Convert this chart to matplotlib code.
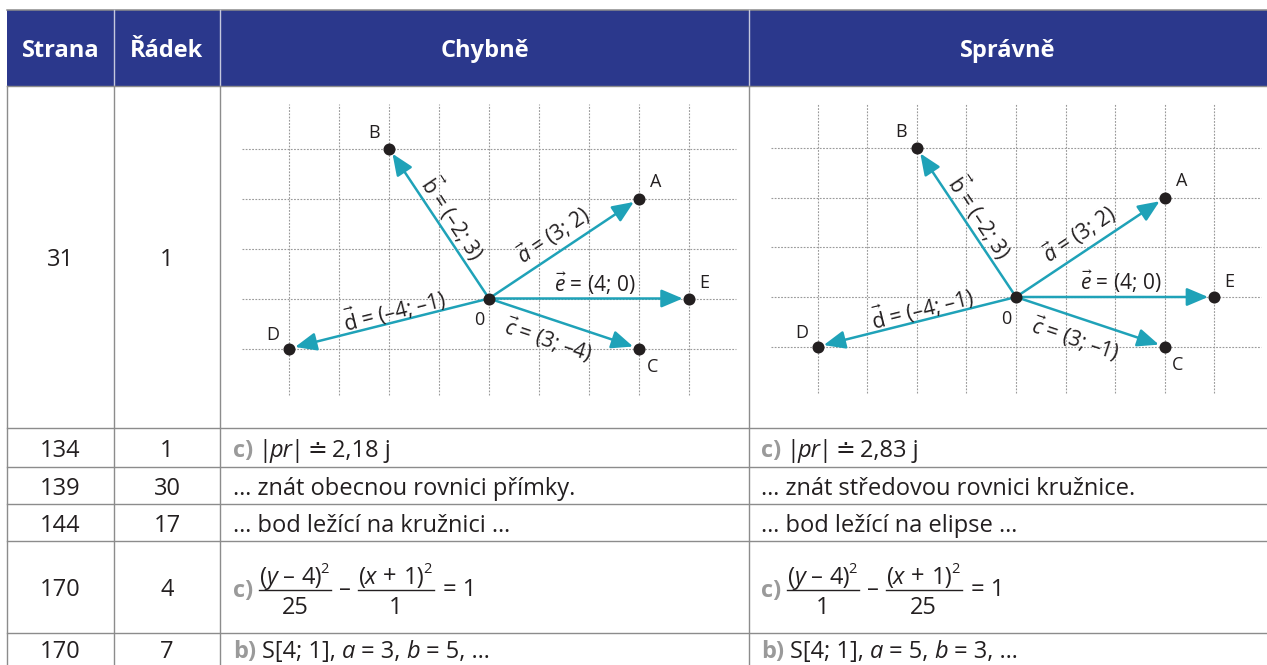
import numpy as np
import matplotlib.pyplot as plt

plt.rcParams['font.family'] = ['Open Sans', 'DejaVu Sans']
plt.rcParams['mathtext.fontset'] = 'custom'
plt.rcParams['mathtext.rm'] = 'Open Sans'
plt.rcParams['mathtext.it'] = 'Open Sans:italic'
plt.rcParams['mathtext.bf'] = 'Open Sans:bold'
plt.rcParams['mathtext.fallback'] = 'stixsans'

# --- data ---
headers = ['Strana', 'Řádek', 'Chybně', 'Správně']
strana = ['31', '134', '139', '144', '170', '170']
radek = ['1', '1', '30', '17', '4', '7']

# vectors / points of the diagram (grid units)
point_names = ['A', 'B', 'C', 'D', 'E']
point_x = [3, -2, 3, -4, 4]
point_y = [2, 3, -1, -1, 0]
labels_wrong = [r'$\vec{a}$ = (3; 2)', r'$\vec{\mathrm{b}}$ = (–2; 3)', r'$\vec{c}$ = (3; –4)',
                r'$\vec{\mathrm{d}}$ = (–4; –1)', r'$\vec{e}$ = (4; 0)']
labels_right = [r'$\vec{a}$ = (3; 2)', r'$\vec{\mathrm{b}}$ = (–2; 3)', r'$\vec{c}$ = (3; –1)',
                r'$\vec{\mathrm{d}}$ = (–4; –1)', r'$\vec{e}$ = (4; 0)']

# cell texts as runs: (text, style, gap before in px); style b = grey bold label, i = italic
wrong_pr = [('c)', 'b', 0), ('|', 'r', 5), ('pr', 'i', -2), ('|', 'r', -2), ('≐', 'r', 4), ('2,18 j', 'r', 5)]
right_pr = [('c)', 'b', 0), ('|', 'r', 5), ('pr', 'i', -2), ('|', 'r', -2), ('≐', 'r', 4), ('2,83 j', 'r', 5)]
wrong_line = [('… znát obecnou rovnici přímky.', 'r', 0)]
right_line = [('… znát středovou rovnici kružnice.', 'r', 0)]
wrong_point = [('… bod ležící na kružnici …', 'r', 0)]
right_point = [('… bod ležící na elipse …', 'r', 0)]
num_y = [('(', 'r', 0), ('y', 'i', -1), ('–', 'r', 6), ('4)', 'r', 6), ('2', 's', -1)]
num_x = [('(', 'r', 0), ('x', 'i', -1), ('+', 'r', 7), ('1)', 'r', 7), ('2', 's', -1)]
wrong_hyp = [(num_y, '25'), (num_x, '1')]
right_hyp = [(num_y, '1'), (num_x, '25')]
wrong_s = [('b)', 'b', 0), ('S[4; 1],', 'r', 6), ('a', 'i', 6), ('= 3,', 'r', 6), ('b', 'i', 6),
           ('= 5, …', 'r', 6)]
right_s = [('b)', 'b', 0), ('S[4; 1],', 'r', 6), ('a', 'i', 6), ('= 5,', 'r', 6), ('b', 'i', 6),
           ('= 3, …', 'r', 6)]

W, H = 1267, 665
NAVY = '#2b388c'
TEAL = '#1fa2b8'
LINE = '#8c8c8c'
TXT = '#231f20'
FS = 17

col_x = [7, 114, 220, 749, 1267]
row_y = [10, 85.5, 428, 467, 504, 541, 633, 691]

fig = plt.figure(figsize=(W / 100, H / 100), dpi=100)
ax = fig.add_axes([0, 0, 1, 1])
ax.set_xlim(0, W)
ax.set_ylim(H, 0)
ax.axis('off')
renderer = fig.canvas.get_renderer()

# header
ax.add_patch(plt.Rectangle((col_x[0], row_y[0]), W - col_x[0], row_y[1] - row_y[0], color=NAVY, lw=0))
ax.plot([col_x[0], W], [row_y[0], row_y[0]], color=LINE, lw=1.1)
for cx in col_x[1:-1]:
    ax.plot([cx, cx], [row_y[0], row_y[1]], color='#c5c8de', lw=1.0)
for i, h in enumerate(headers):
    ax.text((col_x[i] + col_x[i + 1]) / 2, (row_y[0] + row_y[1]) / 2 + 9, h, color='white',
            fontsize=17, fontweight='bold', ha='center', va='baseline')

# body grid lines
for ry in row_y[1:-1]:
    ax.plot([col_x[0], W], [ry, ry], color=LINE, lw=1.0)
for cx in col_x[:-1]:
    ax.plot([cx, cx], [row_y[1], H], color=LINE, lw=1.0)

baselines = [(row_y[i + 1] + row_y[i + 2]) / 2 + 9.5 for i in range(len(strana))]
baselines[-1] = 658

# first two columns
for i in range(len(strana)):
    ax.text((col_x[0] + col_x[1]) / 2, baselines[i], strana[i], fontsize=FS, color=TXT,
            ha='center', va='baseline')
    ax.text((col_x[1] + col_x[2]) / 2, baselines[i], radek[i], fontsize=FS, color=TXT,
            ha='center', va='baseline')


def draw_runs(x, y, runs, size=FS):
    arts = []
    em = size * 100 / 72
    for txt, style, gap in runs:
        x += gap
        kw = dict(fontsize=size, color=TXT, ha='left', va='baseline')
        yy = y
        if style == 'b':
            kw.update(fontweight='bold', color='#9a9a9a')
        elif style == 'i':
            kw.update(fontstyle='italic')
        elif style == 's':
            kw.update(fontsize=size * 0.62)
            yy = y - 0.45 * em
        t = ax.text(x, yy, txt, **kw)
        arts.append(t)
        x += t.get_window_extent(renderer=renderer).width
    return arts, x


def draw_frac(x, bar_y, num, den, size=FS):
    arts, w = draw_runs(0, bar_y - 6.5, num, size)
    for a in arts:
        a.set_x(a.get_position()[0] + x + 1)
    ax.plot([x, x + w + 3], [bar_y, bar_y], color=TXT, lw=1.0)
    ax.text(x + (w + 3) / 2, bar_y + 23.5, den, fontsize=size, color=TXT, ha='center', va='baseline')
    return x + w + 3


def draw_hyperbola(x, y, prefix, fracs):
    _, x = draw_runs(x, y, [prefix])
    x = draw_frac(x + 6, y - 6.5, *fracs[0])
    _, x = draw_runs(x + 8, y, [('–', 'r', 0)])
    x = draw_frac(x + 7, y - 6.5, *fracs[1])
    draw_runs(x + 9, y, [('= 1', 'r', 0)])


for b, runs_l, runs_r in zip([baselines[1], baselines[2], baselines[3], baselines[5]],
                             [wrong_pr, wrong_line, wrong_point, wrong_s],
                             [right_pr, right_line, right_point, right_s]):
    draw_runs(col_x[2] + 13, b, runs_l)
    draw_runs(col_x[3] + 12, b, runs_r)
draw_hyperbola(col_x[2] + 13, baselines[4], ('c)', 'b', 0), wrong_hyp)
draw_hyperbola(col_x[3] + 12, baselines[4], ('c)', 'b', 0), right_hyp)

# diagrams
grid_x = np.arange(-4, 5)
grid_y = np.arange(-1, 4)
vec_t = [0.49, 0.48, 0.44, 0.46, 0.53]
vec_off = [17, -15, -21, -12, 15]
pt_off = [(12, 12), (-11, 11.5), (9.5, -13.5), (-11.5, 9.5), (11, 11)]


def draw_diagram(ox, oy, unit, vec_labels):
    xl, yl = (-5.3, 5.3), (-2.4, 4.0)
    w = (xl[1] - xl[0]) * unit
    h = (yl[1] - yl[0]) * unit
    left = ox + xl[0] * unit
    bottom = oy - yl[0] * unit
    dax = fig.add_axes([left / W, 1 - bottom / H, w / W, h / H])
    dax.set_xlim(*xl)
    dax.set_ylim(*yl)
    dax.axis('off')
    dax.patch.set_alpha(0)
    for gx in grid_x:
        dax.plot([gx, gx], [-1.93, 3.9], color='#9a9a9a', lw=0.8, ls=(0, (1.6, 1.3)))
    for gy in grid_y:
        dax.plot([-4.94, 4.94], [gy, gy], color='#9a9a9a', lw=0.8, ls=(0, (1.6, 1.3)))
    for i in range(len(point_names)):
        vx, vy = point_x[i], point_y[i]
        dax.annotate('', xy=(vx, vy), xytext=(0, 0),
                     arrowprops=dict(arrowstyle='-|>,head_length=1.3,head_width=0.55',
                                     mutation_scale=10, color=TEAL, lw=1.8,
                                     shrinkA=0, shrinkB=4.5), zorder=3)
        dax.annotate(point_names[i], xy=(vx, vy), xytext=pt_off[i], textcoords='offset points',
                     fontsize=13, color=TXT, ha='center', va='center')
        ln = np.hypot(vx, vy)
        nx, ny = -vy / ln, vx / ln
        px = vec_t[i] * vx + nx * vec_off[i] / unit
        py = vec_t[i] * vy + ny * vec_off[i] / unit
        ang = np.degrees(np.arctan2(vy, vx))
        if ang > 90:
            ang -= 180
        elif ang < -90:
            ang += 180
        dax.text(px, py, vec_labels[i], fontsize=15, color=TXT, rotation=ang,
                 rotation_mode='anchor', ha='center', va='center')
    dax.scatter(point_x + [0], point_y + [0], s=75, color=TXT, zorder=5, lw=0)
    dax.annotate('0', xy=(0, 0), xytext=(-7, -15.5), textcoords='offset points',
                 fontsize=13, color=TXT, ha='center', va='center')


draw_diagram(489, 298.5, 50, labels_wrong)
draw_diagram(1016, 297, 49.6, labels_right)

fig.savefig('out.png', dpi=100)
